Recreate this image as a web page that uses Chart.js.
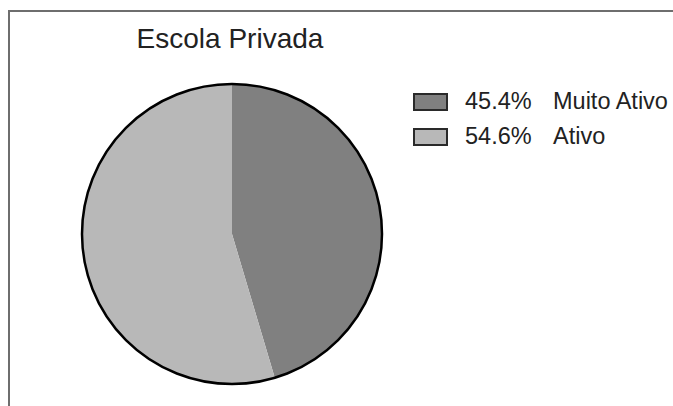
<!DOCTYPE html>
<html lang="pt">
<head>
    <meta charset="UTF-8">
    <title>Escola Privada</title>
    <style>
        html, body {
            margin: 0;
            overflow: hidden;
        }
        body {
            width: 673px;
            height: 406px;
            background: #fff;
            font-family: "Liberation Sans", Arial, sans-serif;
            color: #222;
            position: relative;
        }
        .frame {
            position: absolute;
            left: 8px;
            top: 10px;
            right: 0;
            bottom: 0;
            border-top: 2px solid #6e6e6e;
            border-left: 2px solid #6e6e6e;
        }
        .titulo {
            position: absolute;
            left: 0;
            top: 25px;
            width: 460px;
            text-align: center;
            font-size: 28px;
            line-height: 28px;
        }
        #pieBox {
            position: absolute;
            left: 77px;
            top: 79px;
            width: 310px;
            height: 310px;
        }
        .legenda-item {
            position: absolute;
            left: 413px;
            font-size: 23.5px;
            line-height: 23px;
            white-space: pre;
        }
        .legenda-item .caixa {
            position: absolute;
            left: 0;
            top: 3px;
            width: 35px;
            height: 18px;
            box-sizing: border-box;
            border: 2px solid #2a2a2a;
        }
        .legenda-item .pct {
            position: absolute;
            left: 52px;
            top: 0;
        }
        .legenda-item .nome {
            position: absolute;
            left: 140px;
            top: 0;
        }
    </style>
    <script src="https://cdn.jsdelivr.net/npm/chart.js"></script>
</head>
<body>
    <div class="frame"></div>
    <div class="titulo">Escola Privada</div>
    <div id="pieBox"><canvas id="pizzaChart"></canvas></div>
    <div id="legenda"></div>

    <script>
        const categorias = ['Muito Ativo', 'Ativo'];
        const percentuais = [45.4, 54.6];
        const cores = ['#808080', '#b8b8b8'];

        // legenda em HTML, montada a partir dos arrays
        const legenda = document.getElementById('legenda');
        categorias.forEach((nome, i) => {
            const item = document.createElement('div');
            item.className = 'legenda-item';
            item.style.top = (90 + i * 35) + 'px';
            const caixa = document.createElement('span');
            caixa.className = 'caixa';
            caixa.style.background = cores[i];
            const pct = document.createElement('span');
            pct.className = 'pct';
            pct.textContent = percentuais[i].toFixed(1) + '%';
            const txt = document.createElement('span');
            txt.className = 'nome';
            txt.textContent = nome;
            item.appendChild(caixa);
            item.appendChild(pct);
            item.appendChild(txt);
            legenda.appendChild(item);
        });

        // contorno preto só na borda externa da pizza
        const contorno = {
            id: 'contorno',
            afterDatasetsDraw(chart) {
                const arc = chart.getDatasetMeta(0).data[0];
                if (!arc) return;
                const ctx = chart.ctx;
                ctx.save();
                ctx.beginPath();
                ctx.arc(arc.x, arc.y, arc.outerRadius, 0, Math.PI * 2);
                ctx.lineWidth = 2.5;
                ctx.strokeStyle = '#000';
                ctx.stroke();
                ctx.restore();
            }
        };

        new Chart(document.getElementById('pizzaChart'), {
            type: 'pie',
            data: {
                labels: categorias,
                datasets: [{
                    data: percentuais,
                    backgroundColor: cores,
                    borderWidth: 0,
                    hoverOffset: 0,
                    offset: 0
                }]
            },
            options: {
                responsive: true,
                maintainAspectRatio: false,
                animation: false,
                layout: { padding: 5 },
                plugins: {
                    legend: { display: false },
                    title: { display: false },
                    tooltip: { enabled: false }
                }
            },
            plugins: [contorno]
        });
    </script>
</body>
</html>
